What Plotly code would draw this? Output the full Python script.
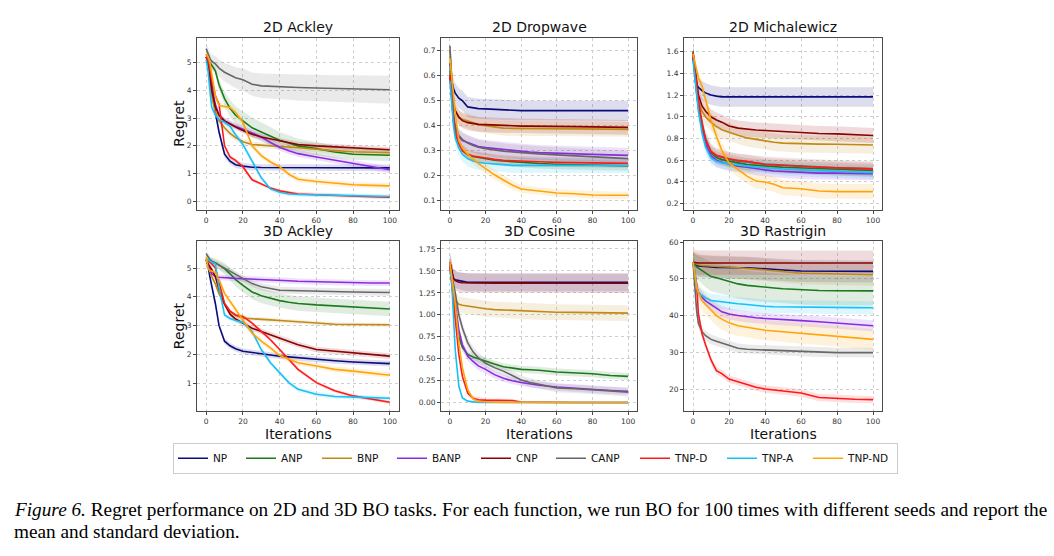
import plotly.graph_objects as go

W, H = 1054, 556

# ---------------- data ----------------
X = [0, 1, 2, 3, 5, 7, 10, 13, 16, 20, 25, 30, 35, 40, 45, 50, 60, 70, 80, 90, 100]
MODELS = ["NP", "ANP", "BNP", "BANP", "CNP", "CANP", "TNP-D", "TNP-A", "TNP-ND"]
COLORS = ["#0b0b7e", "#1b7a1b", "#c08a14", "#8a2be2", "#8b0000", "#676767", "#ff1a1a", "#18c0f5", "#ffa50a"]
TITLES = ["2D Ackley", "2D Dropwave", "2D Michalewicz", "3D Ackley", "3D Cosine", "3D Rastrigin"]
X_TICKS = [0, 20, 40, 60, 80, 100]

ACKLEY2D_MEAN = {
    "NP":     [5.2, 5.1, 4.8, 4.2, 3.2, 2.5, 1.7, 1.45, 1.32, 1.27, 1.23, 1.22, 1.22, 1.22, 1.22, 1.22, 1.22, 1.22, 1.21, 1.21, 1.21],
    "ANP":    [5.1, 5.05, 5.0, 4.9, 4.7, 4.2, 3.7, 3.35, 3.1, 2.9, 2.65, 2.5, 2.35, 2.2, 2.1, 2.0, 1.9, 1.78, 1.7, 1.67, 1.66],
    "BNP":    [5.3, 5.0, 4.4, 3.8, 3.2, 2.9, 2.65, 2.45, 2.3, 2.15, 2.05, 2.02, 2.0, 1.98, 1.96, 1.93, 1.88, 1.83, 1.79, 1.77, 1.75],
    "BANP":   [5.2, 5.0, 4.6, 4.1, 3.5, 3.1, 2.9, 2.8, 2.7, 2.6, 2.45, 2.32, 2.12, 1.95, 1.82, 1.72, 1.6, 1.48, 1.38, 1.25, 1.14],
    "CNP":    [5.2, 5.0, 4.5, 4.0, 3.4, 3.1, 2.9, 2.78, 2.68, 2.55, 2.42, 2.32, 2.25, 2.18, 2.1, 2.05, 2.0, 1.96, 1.94, 1.9, 1.86],
    "CANP":   [5.5, 5.3, 5.15, 5.05, 4.95, 4.8, 4.65, 4.55, 4.45, 4.38, 4.22, 4.16, 4.14, 4.14, 4.12, 4.1, 4.08, 4.06, 4.05, 4.04, 4.02],
    "TNP-D":  [5.2, 5.1, 4.8, 4.4, 3.8, 3.5, 2.0, 1.6, 1.48, 1.25, 0.78, 0.62, 0.48, 0.38, 0.32, 0.27, 0.24, 0.21, 0.19, 0.17, 0.15],
    "TNP-A":  [5.1, 4.7, 4.0, 3.4, 3.1, 2.95, 2.85, 2.7, 2.4, 2.05, 1.45, 0.85, 0.45, 0.33, 0.27, 0.25, 0.24, 0.22, 0.2, 0.19, 0.18],
    "TNP-ND": [5.3, 5.2, 5.0, 4.6, 3.8, 3.45, 3.42, 3.38, 3.2, 2.85, 2.0, 1.65, 1.42, 1.25, 0.98, 0.8, 0.72, 0.65, 0.6, 0.58, 0.56],
}
ACKLEY2D_STD = {
    "NP":     [0.15, 0.15, 0.15, 0.15, 0.15, 0.14, 0.13, 0.12, 0.12, 0.12, 0.12, 0.12, 0.12, 0.12, 0.12, 0.12, 0.12, 0.12, 0.12, 0.12, 0.12],
    "ANP":    [0.12, 0.12, 0.13, 0.14, 0.16, 0.2, 0.25, 0.3, 0.33, 0.35, 0.36, 0.35, 0.33, 0.3, 0.28, 0.26, 0.24, 0.22, 0.2, 0.2, 0.2],
    "BNP":    [0.12, 0.12, 0.12, 0.12, 0.12, 0.12, 0.12, 0.12, 0.12, 0.1, 0.1, 0.1, 0.1, 0.1, 0.1, 0.1, 0.1, 0.1, 0.1, 0.1, 0.1],
    "BANP":   [0.12, 0.12, 0.12, 0.12, 0.12, 0.12, 0.12, 0.12, 0.12, 0.12, 0.12, 0.12, 0.12, 0.12, 0.12, 0.12, 0.12, 0.12, 0.12, 0.12, 0.12],
    "CNP":    [0.1, 0.1, 0.1, 0.1, 0.1, 0.1, 0.1, 0.1, 0.1, 0.1, 0.1, 0.1, 0.1, 0.1, 0.1, 0.1, 0.1, 0.1, 0.1, 0.1, 0.1],
    "CANP":   [0.2, 0.2, 0.22, 0.25, 0.28, 0.3, 0.33, 0.36, 0.38, 0.4, 0.42, 0.44, 0.45, 0.46, 0.46, 0.47, 0.48, 0.48, 0.49, 0.5, 0.5],
    "TNP-D":  [0.08, 0.08, 0.08, 0.08, 0.08, 0.08, 0.08, 0.07, 0.07, 0.06, 0.06, 0.06, 0.06, 0.06, 0.06, 0.06, 0.06, 0.06, 0.06, 0.06, 0.06],
    "TNP-A":  [0.1, 0.1, 0.1, 0.1, 0.1, 0.1, 0.1, 0.1, 0.1, 0.1, 0.1, 0.09, 0.08, 0.08, 0.08, 0.08, 0.08, 0.08, 0.08, 0.08, 0.08],
    "TNP-ND": [0.1, 0.1, 0.1, 0.1, 0.1, 0.1, 0.1, 0.1, 0.1, 0.1, 0.1, 0.1, 0.1, 0.1, 0.1, 0.1, 0.1, 0.1, 0.1, 0.1, 0.1],
}

DROPWAVE_MEAN = {
    "NP":     [0.65, 0.58, 0.55, 0.53, 0.51, 0.5, 0.475, 0.47, 0.468, 0.467, 0.465, 0.462, 0.46, 0.46, 0.46, 0.46, 0.46, 0.46, 0.46, 0.46, 0.46],
    "ANP":    [0.62, 0.5, 0.42, 0.37, 0.33, 0.3, 0.282, 0.276, 0.272, 0.268, 0.262, 0.258, 0.255, 0.252, 0.25, 0.248, 0.245, 0.243, 0.241, 0.24, 0.239],
    "BNP":    [0.7, 0.58, 0.5, 0.46, 0.43, 0.425, 0.418, 0.412, 0.405, 0.4, 0.395, 0.39, 0.389, 0.389, 0.388, 0.388, 0.387, 0.387, 0.386, 0.386, 0.385],
    "BANP":   [0.6, 0.5, 0.43, 0.39, 0.355, 0.34, 0.332, 0.322, 0.316, 0.312, 0.308, 0.304, 0.3, 0.297, 0.294, 0.292, 0.289, 0.287, 0.285, 0.283, 0.281],
    "CNP":    [0.6, 0.52, 0.48, 0.46, 0.435, 0.42, 0.412, 0.408, 0.405, 0.404, 0.402, 0.4, 0.399, 0.398, 0.398, 0.397, 0.397, 0.396, 0.395, 0.394, 0.393],
    "CANP":   [0.72, 0.55, 0.45, 0.4, 0.36, 0.345, 0.33, 0.32, 0.313, 0.308, 0.302, 0.298, 0.295, 0.292, 0.29, 0.287, 0.283, 0.279, 0.275, 0.271, 0.268],
    "TNP-D":  [0.6, 0.5, 0.42, 0.37, 0.33, 0.3, 0.285, 0.278, 0.274, 0.27, 0.265, 0.261, 0.259, 0.257, 0.256, 0.255, 0.253, 0.252, 0.251, 0.25, 0.249],
    "TNP-A":  [0.58, 0.48, 0.4, 0.35, 0.31, 0.285, 0.268, 0.258, 0.252, 0.249, 0.246, 0.244, 0.241, 0.241, 0.241, 0.241, 0.241, 0.24, 0.24, 0.24, 0.24],
    "TNP-ND": [0.67, 0.6, 0.53, 0.45, 0.34, 0.31, 0.285, 0.265, 0.248, 0.228, 0.203, 0.182, 0.162, 0.146, 0.142, 0.138, 0.13, 0.127, 0.122, 0.121, 0.121],
}
DROPWAVE_STD = {
    "NP":     [0.04, 0.04, 0.04, 0.04, 0.04, 0.04, 0.04, 0.04, 0.04, 0.04, 0.04, 0.04, 0.04, 0.04, 0.04, 0.04, 0.04, 0.04, 0.04, 0.04, 0.04],
    "ANP":    [0.02, 0.02, 0.02, 0.02, 0.02, 0.02, 0.02, 0.02, 0.02, 0.02, 0.02, 0.02, 0.02, 0.02, 0.02, 0.02, 0.02, 0.02, 0.02, 0.02, 0.02],
    "BNP":    [0.03, 0.03, 0.03, 0.03, 0.03, 0.03, 0.03, 0.03, 0.03, 0.03, 0.03, 0.03, 0.03, 0.03, 0.03, 0.03, 0.03, 0.03, 0.03, 0.03, 0.03],
    "BANP":   [0.03, 0.03, 0.03, 0.03, 0.03, 0.03, 0.03, 0.03, 0.03, 0.03, 0.03, 0.03, 0.03, 0.03, 0.03, 0.03, 0.03, 0.03, 0.03, 0.03, 0.03],
    "CNP":    [0.03, 0.03, 0.03, 0.03, 0.03, 0.03, 0.03, 0.03, 0.03, 0.03, 0.03, 0.03, 0.03, 0.03, 0.03, 0.03, 0.03, 0.03, 0.03, 0.03, 0.03],
    "CANP":   [0.03, 0.03, 0.03, 0.03, 0.03, 0.03, 0.03, 0.03, 0.03, 0.03, 0.03, 0.03, 0.03, 0.03, 0.03, 0.03, 0.03, 0.03, 0.03, 0.03, 0.03],
    "TNP-D":  [0.02, 0.02, 0.02, 0.02, 0.02, 0.02, 0.02, 0.02, 0.02, 0.02, 0.02, 0.02, 0.02, 0.02, 0.02, 0.02, 0.02, 0.02, 0.02, 0.02, 0.02],
    "TNP-A":  [0.03, 0.03, 0.03, 0.03, 0.03, 0.03, 0.03, 0.03, 0.03, 0.03, 0.03, 0.03, 0.03, 0.03, 0.03, 0.03, 0.03, 0.03, 0.03, 0.03, 0.03],
    "TNP-ND": [0.02, 0.02, 0.02, 0.02, 0.02, 0.02, 0.02, 0.02, 0.02, 0.02, 0.02, 0.02, 0.018, 0.016, 0.015, 0.015, 0.015, 0.015, 0.015, 0.015, 0.015],
}

MICHALEWICZ_MEAN = {
    "NP":     [1.55, 1.4, 1.3, 1.27, 1.24, 1.22, 1.2, 1.19, 1.183, 1.183, 1.183, 1.183, 1.183, 1.183, 1.183, 1.183, 1.183, 1.183, 1.183, 1.183, 1.183],
    "ANP":    [1.55, 1.4, 1.25, 1.12, 0.93, 0.79, 0.665, 0.625, 0.605, 0.59, 0.575, 0.56, 0.552, 0.545, 0.54, 0.535, 0.528, 0.52, 0.515, 0.51, 0.505],
    "BNP":    [1.55, 1.4, 1.25, 1.15, 1.05, 1.0, 0.95, 0.91, 0.88, 0.855, 0.83, 0.805, 0.79, 0.78, 0.765, 0.757, 0.75, 0.748, 0.747, 0.744, 0.739],
    "BANP":   [1.55, 1.38, 1.22, 1.08, 0.9, 0.75, 0.64, 0.6, 0.58, 0.565, 0.545, 0.535, 0.52, 0.51, 0.5, 0.495, 0.485, 0.48, 0.48, 0.477, 0.475],
    "CNP":    [1.6, 1.45, 1.3, 1.2, 1.1, 1.05, 1.0, 0.97, 0.95, 0.915, 0.895, 0.885, 0.878, 0.873, 0.868, 0.863, 0.855, 0.845, 0.842, 0.835, 0.827],
    "CANP":   [1.6, 1.4, 1.22, 1.1, 0.92, 0.8, 0.68, 0.64, 0.625, 0.61, 0.59, 0.58, 0.57, 0.565, 0.56, 0.555, 0.545, 0.54, 0.53, 0.525, 0.52],
    "TNP-D":  [1.58, 1.45, 1.3, 1.15, 0.95, 0.78, 0.68, 0.645, 0.63, 0.61, 0.598, 0.59, 0.575, 0.56, 0.555, 0.55, 0.544, 0.535, 0.529, 0.524, 0.52],
    "TNP-A":  [1.52, 1.35, 1.2, 1.05, 0.85, 0.72, 0.62, 0.59, 0.575, 0.565, 0.553, 0.545, 0.537, 0.53, 0.525, 0.518, 0.51, 0.505, 0.5, 0.49, 0.485],
    "TNP-ND": [1.58, 1.5, 1.42, 1.36, 1.28, 1.15, 0.97, 0.82, 0.69, 0.574, 0.513, 0.453, 0.407, 0.398, 0.377, 0.346, 0.337, 0.316, 0.31, 0.31, 0.31],
}
MICHALEWICZ_STD = {
    "NP":     [0.09, 0.09, 0.09, 0.09, 0.09, 0.09, 0.09, 0.09, 0.09, 0.09, 0.09, 0.09, 0.09, 0.09, 0.09, 0.09, 0.09, 0.09, 0.09, 0.09, 0.09],
    "ANP":    [0.06, 0.06, 0.06, 0.06, 0.06, 0.06, 0.06, 0.06, 0.06, 0.06, 0.06, 0.06, 0.06, 0.06, 0.06, 0.06, 0.06, 0.06, 0.06, 0.06, 0.06],
    "BNP":    [0.08, 0.08, 0.08, 0.08, 0.08, 0.08, 0.08, 0.08, 0.08, 0.08, 0.08, 0.08, 0.08, 0.08, 0.08, 0.08, 0.08, 0.08, 0.08, 0.08, 0.08],
    "BANP":   [0.06, 0.06, 0.06, 0.06, 0.06, 0.06, 0.06, 0.06, 0.06, 0.06, 0.06, 0.06, 0.06, 0.06, 0.06, 0.06, 0.06, 0.06, 0.06, 0.06, 0.06],
    "CNP":    [0.07, 0.07, 0.07, 0.07, 0.07, 0.07, 0.07, 0.07, 0.07, 0.07, 0.07, 0.07, 0.07, 0.07, 0.07, 0.07, 0.07, 0.07, 0.07, 0.07, 0.07],
    "CANP":   [0.07, 0.07, 0.07, 0.07, 0.07, 0.07, 0.07, 0.07, 0.07, 0.07, 0.07, 0.07, 0.07, 0.07, 0.07, 0.07, 0.07, 0.07, 0.07, 0.07, 0.07],
    "TNP-D":  [0.06, 0.06, 0.06, 0.06, 0.06, 0.06, 0.06, 0.06, 0.06, 0.06, 0.06, 0.06, 0.06, 0.06, 0.06, 0.06, 0.06, 0.06, 0.06, 0.06, 0.06],
    "TNP-A":  [0.06, 0.06, 0.06, 0.06, 0.06, 0.06, 0.06, 0.06, 0.06, 0.06, 0.06, 0.06, 0.06, 0.06, 0.06, 0.06, 0.06, 0.06, 0.06, 0.06, 0.06],
    "TNP-ND": [0.05, 0.05, 0.05, 0.05, 0.06, 0.06, 0.07, 0.07, 0.07, 0.07, 0.07, 0.07, 0.07, 0.07, 0.07, 0.07, 0.07, 0.07, 0.07, 0.07, 0.07],
}

ACKLEY3D_MEAN = {
    "NP":     [5.3, 5.1, 4.7, 4.4, 3.77, 3.0, 2.46, 2.3, 2.2, 2.11, 2.06, 2.02, 1.98, 1.94, 1.91, 1.88, 1.83, 1.78, 1.74, 1.71, 1.68],
    "ANP":    [5.3, 5.25, 5.22, 5.2, 5.18, 5.1, 4.98, 4.8, 4.6, 4.4, 4.17, 4.04, 3.95, 3.87, 3.81, 3.77, 3.72, 3.68, 3.64, 3.61, 3.58],
    "BNP":    [5.3, 5.1, 4.9, 4.7, 4.45, 4.1, 3.75, 3.5, 3.35, 3.26, 3.24, 3.23, 3.2, 3.18, 3.16, 3.14, 3.09, 3.05, 3.04, 3.03, 3.03],
    "BANP":   [5.3, 5.1, 4.95, 4.8, 4.71, 4.68, 4.66, 4.65, 4.64, 4.63, 4.62, 4.6, 4.59, 4.58, 4.56, 4.54, 4.52, 4.5, 4.48, 4.48, 4.48],
    "CNP":    [5.2, 5.15, 5.05, 4.95, 4.7, 4.25, 3.75, 3.4, 3.23, 3.1, 2.91, 2.8, 2.68, 2.57, 2.45, 2.34, 2.17, 2.11, 2.05, 2.0, 1.94],
    "CANP":   [5.5, 5.4, 5.3, 5.25, 5.18, 5.08, 4.98, 4.88, 4.78, 4.63, 4.46, 4.35, 4.28, 4.23, 4.22, 4.21, 4.2, 4.18, 4.17, 4.16, 4.15],
    "TNP-D":  [5.3, 5.25, 5.2, 5.15, 5.0, 4.5, 3.77, 3.5, 3.37, 3.32, 3.09, 2.8, 2.51, 2.17, 1.83, 1.48, 1.02, 0.74, 0.56, 0.45, 0.34],
    "TNP-A":  [5.2, 5.3, 5.25, 5.2, 5.15, 4.3, 3.37, 3.25, 3.18, 3.11, 2.8, 2.17, 1.71, 1.37, 1.02, 0.79, 0.62, 0.54, 0.51, 0.5, 0.48],
    "TNP-ND": [5.4, 5.0, 4.9, 4.9, 4.85, 4.6, 4.12, 3.85, 3.55, 3.2, 2.74, 2.46, 2.23, 1.96, 1.83, 1.71, 1.6, 1.48, 1.42, 1.34, 1.28],
}
ACKLEY3D_STD = {
    "NP":     [0.12, 0.12, 0.12, 0.12, 0.12, 0.11, 0.1, 0.1, 0.1, 0.1, 0.1, 0.1, 0.1, 0.1, 0.1, 0.1, 0.1, 0.1, 0.1, 0.1, 0.1],
    "ANP":    [0.15, 0.15, 0.15, 0.15, 0.15, 0.17, 0.2, 0.22, 0.24, 0.25, 0.25, 0.25, 0.25, 0.25, 0.25, 0.25, 0.25, 0.25, 0.25, 0.25, 0.25],
    "BNP":    [0.07, 0.07, 0.07, 0.07, 0.07, 0.07, 0.07, 0.07, 0.07, 0.07, 0.07, 0.07, 0.07, 0.07, 0.07, 0.07, 0.07, 0.07, 0.07, 0.07, 0.07],
    "BANP":   [0.1, 0.1, 0.1, 0.1, 0.1, 0.1, 0.1, 0.1, 0.1, 0.1, 0.1, 0.1, 0.1, 0.1, 0.1, 0.1, 0.1, 0.1, 0.1, 0.1, 0.1],
    "CNP":    [0.1, 0.1, 0.1, 0.1, 0.1, 0.1, 0.1, 0.1, 0.1, 0.1, 0.1, 0.1, 0.1, 0.1, 0.1, 0.1, 0.1, 0.1, 0.1, 0.1, 0.1],
    "CANP":   [0.12, 0.12, 0.12, 0.12, 0.12, 0.12, 0.12, 0.12, 0.12, 0.12, 0.12, 0.12, 0.12, 0.12, 0.12, 0.12, 0.12, 0.12, 0.12, 0.12, 0.12],
    "TNP-D":  [0.06, 0.06, 0.06, 0.06, 0.06, 0.06, 0.06, 0.06, 0.06, 0.06, 0.06, 0.06, 0.06, 0.06, 0.06, 0.06, 0.06, 0.06, 0.06, 0.06, 0.06],
    "TNP-A":  [0.08, 0.08, 0.08, 0.08, 0.08, 0.08, 0.08, 0.08, 0.08, 0.08, 0.08, 0.08, 0.08, 0.08, 0.08, 0.08, 0.08, 0.08, 0.08, 0.08, 0.08],
    "TNP-ND": [0.1, 0.1, 0.1, 0.1, 0.1, 0.1, 0.1, 0.1, 0.1, 0.1, 0.1, 0.1, 0.1, 0.1, 0.1, 0.1, 0.1, 0.1, 0.1, 0.1, 0.1],
}

COSINE_MEAN = {
    "NP":     [1.6, 1.5, 1.41, 1.4, 1.39, 1.38, 1.37, 1.37, 1.37, 1.37, 1.37, 1.37, 1.37, 1.37, 1.37, 1.37, 1.37, 1.37, 1.37, 1.37, 1.37],
    "ANP":    [1.6, 1.4, 1.2, 0.98, 0.75, 0.63, 0.55, 0.52, 0.5, 0.47, 0.44, 0.41, 0.395, 0.38, 0.375, 0.37, 0.35, 0.34, 0.33, 0.31, 0.3],
    "BNP":    [1.6, 1.4, 1.25, 1.17, 1.12, 1.11, 1.1, 1.09, 1.08, 1.07, 1.06, 1.055, 1.05, 1.045, 1.04, 1.035, 1.03, 1.028, 1.025, 1.022, 1.02],
    "BANP":   [1.6, 1.45, 1.3, 1.15, 0.83, 0.66, 0.53, 0.47, 0.42, 0.38, 0.32, 0.28, 0.25, 0.23, 0.215, 0.2, 0.18, 0.165, 0.15, 0.14, 0.13],
    "CNP":    [1.6, 1.5, 1.42, 1.39, 1.37, 1.365, 1.363, 1.362, 1.362, 1.361, 1.361, 1.361, 1.36, 1.36, 1.36, 1.36, 1.36, 1.36, 1.36, 1.36, 1.36],
    "CANP":   [1.55, 1.45, 1.35, 1.25, 1.0, 0.85, 0.68, 0.58, 0.51, 0.45, 0.4, 0.36, 0.31, 0.26, 0.23, 0.21, 0.17, 0.16, 0.15, 0.135, 0.12],
    "TNP-D":  [1.55, 1.35, 1.15, 0.95, 0.55, 0.3, 0.11, 0.05, 0.035, 0.03, 0.028, 0.027, 0.026, 0.008, 0.006, 0.005, 0.005, 0.004, 0.004, 0.004, 0.004],
    "TNP-A":  [1.5, 1.39, 0.98, 0.6, 0.19, 0.056, 0.019, 0.008, 0.004, 0.003, 0.003, 0.002, 0.002, 0.002, 0.002, 0.002, 0.002, 0.002, 0.002, 0.002, 0.002],
    "TNP-ND": [1.6, 1.45, 1.3, 1.13, 0.68, 0.4, 0.15, 0.045, 0.015, 0.008, 0.006, 0.005, 0.005, 0.004, 0.004, 0.004, 0.004, 0.004, 0.004, 0.004, 0.004],
}
COSINE_STD = {
    "NP":     [0.1, 0.1, 0.1, 0.1, 0.1, 0.1, 0.1, 0.1, 0.1, 0.1, 0.1, 0.1, 0.1, 0.1, 0.1, 0.1, 0.1, 0.1, 0.1, 0.1, 0.1],
    "ANP":    [0.05, 0.05, 0.05, 0.05, 0.05, 0.05, 0.04, 0.04, 0.04, 0.04, 0.04, 0.04, 0.04, 0.04, 0.04, 0.04, 0.04, 0.04, 0.04, 0.04, 0.04],
    "BNP":    [0.09, 0.09, 0.09, 0.09, 0.09, 0.09, 0.09, 0.09, 0.09, 0.09, 0.09, 0.09, 0.09, 0.09, 0.09, 0.09, 0.09, 0.09, 0.09, 0.09, 0.09],
    "BANP":   [0.05, 0.05, 0.05, 0.05, 0.05, 0.05, 0.05, 0.05, 0.05, 0.05, 0.04, 0.04, 0.04, 0.04, 0.04, 0.04, 0.04, 0.04, 0.04, 0.04, 0.04],
    "CNP":    [0.11, 0.11, 0.11, 0.11, 0.11, 0.11, 0.11, 0.11, 0.11, 0.11, 0.11, 0.11, 0.11, 0.11, 0.11, 0.11, 0.11, 0.11, 0.11, 0.11, 0.11],
    "CANP":   [0.06, 0.06, 0.06, 0.06, 0.06, 0.06, 0.06, 0.06, 0.06, 0.05, 0.05, 0.05, 0.05, 0.05, 0.05, 0.05, 0.05, 0.05, 0.05, 0.05, 0.05],
    "TNP-D":  [0.04, 0.04, 0.04, 0.04, 0.04, 0.04, 0.03, 0.03, 0.03, 0.02, 0.02, 0.02, 0.02, 0.01, 0.01, 0.01, 0.01, 0.01, 0.01, 0.01, 0.01],
    "TNP-A":  [0.02, 0.02, 0.02, 0.02, 0.02, 0.01, 0.01, 0.01, 0.01, 0.01, 0.01, 0.01, 0.01, 0.01, 0.01, 0.01, 0.01, 0.01, 0.01, 0.01, 0.01],
    "TNP-ND": [0.02, 0.02, 0.02, 0.02, 0.02, 0.02, 0.02, 0.015, 0.01, 0.01, 0.01, 0.01, 0.01, 0.01, 0.01, 0.01, 0.01, 0.01, 0.01, 0.01, 0.01],
}

RASTRIGIN_MEAN = {
    "NP":     [54.0, 53.8, 53.6, 53.5, 53.4, 53.3, 53.2, 53.1, 53.1, 53.0, 53.0, 53.0, 52.9, 52.7, 52.55, 52.4, 52.1, 52.1, 52.1, 52.05, 52.0],
    "ANP":    [54.5, 53.8, 53.2, 52.9, 52.3, 51.5, 50.6, 50.3, 49.9, 49.4, 48.6, 48.2, 47.9, 47.7, 47.5, 47.3, 47.0, 46.8, 46.75, 46.7, 46.7],
    "BNP":    [54.5, 54.2, 54.0, 53.8, 53.6, 53.5, 53.4, 53.3, 53.25, 53.2, 53.05, 52.9, 52.65, 52.4, 52.2, 52.0, 51.5, 51.45, 51.4, 51.25, 51.1],
    "BANP":   [54.5, 51.0, 48.0, 46.4, 45.0, 44.0, 43.1, 42.0, 41.0, 40.4, 40.0, 39.6, 39.4, 39.2, 39.0, 38.8, 38.6, 38.3, 38.0, 37.6, 37.2],
    "CNP":    [54.5, 54.4, 54.35, 54.3, 54.3, 54.3, 54.3, 54.3, 54.3, 54.3, 54.3, 54.3, 54.3, 54.3, 54.3, 54.3, 54.3, 54.3, 54.3, 54.3, 54.3],
    "CANP":   [54.5, 48.0, 41.4, 37.8, 35.6, 34.5, 33.5, 33.0, 32.5, 32.0, 31.1, 30.8, 30.7, 30.6, 30.5, 30.4, 30.2, 30.0, 29.9, 29.9, 29.9],
    "TNP-D":  [54.5, 52.0, 48.6, 40.5, 35.1, 32.0, 27.9, 25.0, 24.2, 22.7, 21.9, 21.2, 20.5, 20.0, 19.7, 19.4, 18.9, 17.7, 17.4, 17.2, 17.1],
    "TNP-A":  [54.5, 52.0, 48.2, 46.0, 45.5, 44.8, 44.1, 43.9, 43.6, 43.4, 43.2, 43.0, 42.7, 42.5, 42.4, 42.35, 42.3, 42.25, 42.2, 42.15, 42.1],
    "TNP-ND": [54.5, 51.0, 47.7, 46.3, 44.1, 43.0, 41.4, 40.0, 39.0, 38.0, 37.2, 36.9, 36.4, 36.0, 35.8, 35.6, 35.1, 34.8, 34.4, 34.0, 33.5],
}
RASTRIGIN_STD = {
    "NP":     [3.0, 3.0, 3.0, 3.0, 3.0, 3.0, 3.0, 3.0, 3.0, 3.0, 3.0, 3.0, 3.0, 3.0, 3.0, 3.0, 3.0, 3.0, 3.0, 3.0, 3.0],
    "ANP":    [3.0, 3.0, 3.2, 3.4, 3.6, 3.8, 4.0, 4.0, 4.0, 4.0, 4.0, 4.0, 4.0, 4.0, 4.0, 4.0, 4.0, 4.0, 4.0, 4.0, 4.0],
    "BNP":    [3.0, 3.0, 3.0, 3.0, 3.0, 3.0, 3.0, 3.0, 3.0, 3.0, 3.0, 3.0, 3.0, 3.0, 3.0, 3.0, 3.0, 3.0, 3.0, 3.0, 3.0],
    "BANP":   [1.5, 1.5, 1.5, 1.5, 1.5, 1.5, 1.5, 1.5, 1.5, 1.5, 1.5, 1.5, 1.5, 1.5, 1.5, 1.5, 1.5, 1.5, 1.5, 1.5, 1.5],
    "CNP":    [3.4, 3.4, 3.4, 3.4, 3.4, 3.4, 3.4, 3.4, 3.4, 3.4, 3.4, 3.4, 3.4, 3.4, 3.4, 3.4, 3.4, 3.4, 3.4, 3.4, 3.4],
    "CANP":   [1.3, 1.3, 1.3, 1.3, 1.3, 1.3, 1.3, 1.3, 1.3, 1.3, 1.3, 1.3, 1.3, 1.3, 1.3, 1.3, 1.3, 1.3, 1.3, 1.3, 1.3],
    "TNP-D":  [1.0, 1.0, 1.0, 1.0, 1.0, 1.0, 1.0, 1.0, 1.0, 1.0, 1.0, 1.0, 1.0, 1.0, 1.0, 1.0, 1.0, 1.0, 1.0, 1.0, 1.0],
    "TNP-A":  [1.8, 1.8, 1.8, 1.8, 1.8, 1.8, 1.8, 1.8, 1.8, 1.8, 1.8, 1.8, 1.8, 1.8, 1.8, 1.8, 1.8, 1.8, 1.8, 1.8, 1.8],
    "TNP-ND": [2.8, 2.8, 2.8, 2.8, 2.8, 2.8, 2.8, 2.8, 2.8, 2.8, 2.8, 2.8, 2.8, 2.8, 2.8, 2.8, 2.8, 2.8, 2.8, 2.8, 2.8],
}

Y_TICKS = [
    [0, 1, 2, 3, 4, 5],
    [0.1, 0.2, 0.3, 0.4, 0.5, 0.6, 0.7],
    [0.2, 0.4, 0.6, 0.8, 1.0, 1.2, 1.4, 1.6],
    [1, 2, 3, 4, 5],
    [0.0, 0.25, 0.5, 0.75, 1.0, 1.25, 1.5, 1.75],
    [20, 30, 40, 50, 60],
]
Y_TICK_FMT = ["d", ".1f", ".1f", "d", ".2f", "d"]
Y_RANGES = [[-0.29, 5.89], [0.064, 0.752], [0.145, 1.728], [0.034, 5.93], [-0.094, 1.837], [14.0, 60.2]]

PANELS = [
    (ACKLEY2D_MEAN, ACKLEY2D_STD),
    (DROPWAVE_MEAN, DROPWAVE_STD),
    (MICHALEWICZ_MEAN, MICHALEWICZ_STD),
    (ACKLEY3D_MEAN, ACKLEY3D_STD),
    (COSINE_MEAN, COSINE_STD),
    (RASTRIGIN_MEAN, RASTRIGIN_STD),
]
LEGEND_WIDTHS = [23, 31, 30, 39, 30, 39, 42, 41, 44]

# -------------- layout geometry (pixels) --------------
BOXES = [(197, 399, 34, 207), (441, 637, 34, 207), (684, 882, 34, 207),
         (197, 399, 239, 410), (441, 637, 239, 410), (684, 882, 239, 410)]


def rgba(hex_color, a):
    h = hex_color.lstrip("#")
    r, g, b = int(h[0:2], 16), int(h[2:4], 16), int(h[4:6], 16)
    return f"rgba({r},{g},{b},{a})"


fig = go.Figure()

FONT = "DejaVu Sans"
layout_axes = {}
annotations = []
for k, (mean_d, std_d) in enumerate(PANELS):
    sfx = "" if k == 0 else str(k + 1)
    xa, ya = "x" + sfx, "y" + sfx
    # bands first
    for m, c in zip(MODELS, COLORS):
        mu, sd = mean_d[m], std_d[m]
        up = [a + b for a, b in zip(mu, sd)]
        lo = [a - b for a, b in zip(mu, sd)]
        fig.add_trace(go.Scatter(
            x=X + X[::-1], y=up + lo[::-1], fill="toself", mode="lines",
            line=dict(width=0, color=rgba(c, 0)), fillcolor=rgba(c, 0.14),
            hoverinfo="skip", showlegend=False, xaxis=xa, yaxis=ya))
    for i, (m, c) in enumerate(zip(MODELS, COLORS)):
        fig.add_trace(go.Scatter(
            x=X, y=mean_d[m], mode="lines", name=m, legendgroup=m,
            showlegend=(k == 0), legendwidth=LEGEND_WIDTHS[i],
            line=dict(color=c, width=1.6), xaxis=xa, yaxis=ya))

    l, r, t, b = BOXES[k]
    axis_common = dict(
        showline=True, mirror=True, linecolor="#4a4a4a", linewidth=1,
        showgrid=True, gridcolor="#cfcfcf", griddash="dot", gridwidth=0.8,
        zeroline=False, ticks="outside", ticklen=3, tickcolor="#4a4a4a",
        tickfont=dict(family=FONT, size=7.5, color="#333333"),
    )
    layout_axes["xaxis" + sfx] = dict(
        axis_common, domain=[l / W, r / W], anchor=ya, range=[-5, 105],
        tickmode="array", tickvals=X_TICKS)
    layout_axes["yaxis" + sfx] = dict(
        axis_common, domain=[1 - b / H, 1 - t / H], anchor=xa, range=Y_RANGES[k],
        tickmode="array", tickvals=Y_TICKS[k], tickformat=Y_TICK_FMT[k])

    annotations.append(dict(
        text=TITLES[k], x=(l + r) / 2 / W, y=1 - (t - 10.5) / H, xref="paper", yref="paper",
        xanchor="center", yanchor="middle", showarrow=False,
        font=dict(family=FONT, size=14, color="#111111")))
    if k in (0, 3):
        annotations.append(dict(
            text="Regret", x=179 / W, y=1 - ((t + b) / 2) / H, xref="paper", yref="paper",
            xanchor="center", yanchor="middle", textangle=-90, showarrow=False,
            font=dict(family=FONT, size=14, color="#111111")))
    if k >= 3:
        annotations.append(dict(
            text="Iterations", x=(l + r) / 2 / W, y=1 - 423 / H, xref="paper", yref="paper",
            xanchor="center", yanchor="top", showarrow=False,
            font=dict(family=FONT, size=14, color="#111111")))

SERIF = "Liberation Serif"
annotations.append(dict(
    text="<i>Figure 6.</i> Regret performance on 2D and 3D BO tasks. For each function, we run BO for 100 times with different seeds and report the",
    x=12 / W, y=1 - 509 / H, xref="paper", yref="paper", xanchor="left", yanchor="middle",
    showarrow=False, font=dict(family=SERIF, size=19.25, color="#000000")))
annotations.append(dict(
    text="mean and standard deviation.",
    x=12 / W, y=1 - 531 / H, xref="paper", yref="paper", xanchor="left", yanchor="middle",
    showarrow=False, font=dict(family=SERIF, size=19.25, color="#000000")))

fig.update_layout(
    width=W, height=H, autosize=False,
    margin=dict(l=0, r=0, t=0, b=0),
    paper_bgcolor="white", plot_bgcolor="white",
    showlegend=True,
    legend=dict(
        orientation="h", x=173 / W, y=1 - 442 / H, xanchor="left", yanchor="top",
        bordercolor="#cccccc", borderwidth=1, bgcolor="white",
        font=dict(family=FONT, size=10.5, color="#111111"),
        itemwidth=30, tracegroupgap=0,
    ),
    annotations=annotations,
    **layout_axes,
)

fig.write_html("out.html", config={"displayModeBar": False},
               post_script="document.body.style.margin='0';")
